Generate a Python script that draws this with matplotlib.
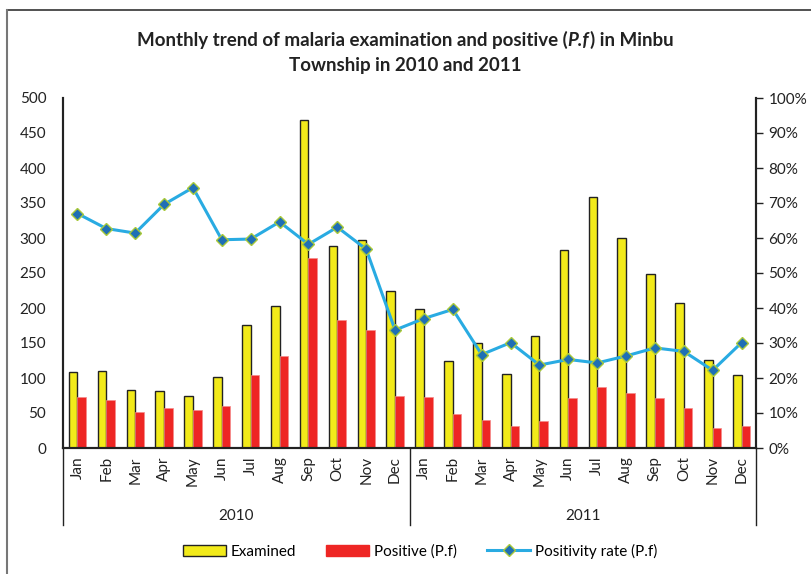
import matplotlib
matplotlib.use('Agg')
import matplotlib.pyplot as plt
from matplotlib.patches import Rectangle
from matplotlib.lines import Line2D
import numpy as np

plt.rcParams['font.family'] = ['Lato', 'DejaVu Sans']

months = ['Jan', 'Feb', 'Mar', 'Apr', 'May', 'Jun',
          'Jul', 'Aug', 'Sep', 'Oct', 'Nov', 'Dec']
years = ['2010', '2011']

# 2010 then 2011
examined = [109, 110, 83, 82, 74, 101, 176, 203, 468, 289, 297, 224,
            198, 124, 150, 106, 160, 283, 359, 300, 248, 207, 126, 104]
positive = [73, 69, 51, 57, 55, 60, 105, 131, 272, 183, 168, 75,
            73, 49, 40, 32, 38, 71, 87, 79, 71, 57, 28, 31]
positivity = [67.0, 62.7, 61.4, 69.6, 74.4, 59.5, 59.7, 64.6, 58.2, 63.1, 56.8, 33.7,
              37.0, 39.6, 26.7, 30.1, 23.7, 25.3, 24.3, 26.3, 28.6, 27.6, 22.2, 30.1]

n = len(examined)
x = np.arange(n)
w = 0.3

fig = plt.figure(figsize=(8.11, 5.74), dpi=100)
ax = fig.add_axes([63/811, 1 - 448/574, (756-63)/811, (448-98)/574])
ax2 = ax.twinx()

ax.bar(x - w/2, examined, w, color='#F2EA1A', edgecolor='#222222', linewidth=1.0, zorder=2)
ax.bar(x + w/2, positive, w, color='#EE2624', edgecolor='#F58A8A', linewidth=0.5, zorder=2)

ax2.plot(x, positivity, color='#29ABE2', linewidth=2.2, marker='D', markersize=6,
         markerfacecolor='#1F6FB5', markeredgecolor='#A8C93A', markeredgewidth=1.0)

ax.set_xlim(-0.5, n - 0.5)
ax.set_ylim(0, 500)
ax.set_yticks(range(0, 501, 50))
ax2.set_ylim(0, 100)
ax2.set_yticks(range(0, 101, 10))
ax2.set_yticklabels([f'{v}%' for v in range(0, 101, 10)])

ax.set_xticks(x)
ax.set_xticklabels(months * 2, rotation=90, fontsize=11, color='#222222')
ax.tick_params(axis='x', length=0, pad=6)
ax.tick_params(axis='y', length=0, labelsize=11, pad=12, colors='#222222')
ax2.tick_params(axis='y', length=5, width=1, labelsize=11, pad=4, colors='#222222')

for a in (ax, ax2):
    a.spines['top'].set_visible(False)
    for s in ('left', 'right', 'bottom'):
        a.spines[s].set_linewidth(1.5)
        a.spines[s].set_color('#222222')

# year group separators and labels
for pos in [-0.5, 11.5, 23.5]:
    ax.plot([pos, pos], [0, -0.22], transform=ax.get_xaxis_transform(),
            color='#222222', linewidth=1.0, clip_on=False)
for i, yr in enumerate(years):
    ax.text(5.5 + 12 * i, -0.193, yr, transform=ax.get_xaxis_transform(),
            ha='center', va='center', fontsize=11, color='#222222')

# title: first line has italic P.f, drawn as pieces
parts = [('Monthly trend of malaria examination and positive (', 'normal'),
         ('P.f', 'italic'),
         (') in Minbu', 'normal')]
renderer = fig.canvas.get_renderer()
texts = []
for s, st in parts:
    t = fig.text(0, 1 - 40/574, s, ha='left', va='center', fontsize=13.5,
                 fontweight='bold', fontstyle=st, color='#222222')
    texts.append(t)
widths = [t.get_window_extent(renderer).width for t in texts]
total = sum(widths) + 1
xpos = (811 - total) / 2
for t, wd in zip(texts, widths):
    t.set_x(xpos / 811)
    xpos += wd + (0.5 if t.get_fontstyle() == 'italic' else 0)
fig.text(0.5, 1 - 65/574, 'Township in 2010 and 2011',
         ha='center', va='center', fontsize=13.5, fontweight='bold', color='#222222')

handles = [Rectangle((0, 0), 1, 1, facecolor='#F2EA1A', edgecolor='#222222', linewidth=1.0),
           Rectangle((0, 0), 1, 1, facecolor='#EE2624', edgecolor='#EE2624'),
           Line2D([], [], color='#29ABE2', linewidth=2.2, marker='D', markersize=6,
                  markerfacecolor='#1F6FB5', markeredgecolor='#A8C93A')]
fig.legend(handles, ['Examined', 'Positive (P.f)', 'Positivity rate (P.f)'],
           loc='center', bbox_to_anchor=(420/811, 1 - 551/574), ncol=3, frameon=False,
           fontsize=11, handlelength=2.8, handletextpad=0.3, columnspacing=2.0)

# outer border (top and left)
fig.add_artist(Line2D([7/811, 1], [1 - 10/574, 1 - 10/574], color='#333333', linewidth=1.2))
fig.add_artist(Line2D([7/811, 7/811], [0, 1 - 10/574], color='#777777', linewidth=1.5))

fig.savefig('out.png', dpi=100)
